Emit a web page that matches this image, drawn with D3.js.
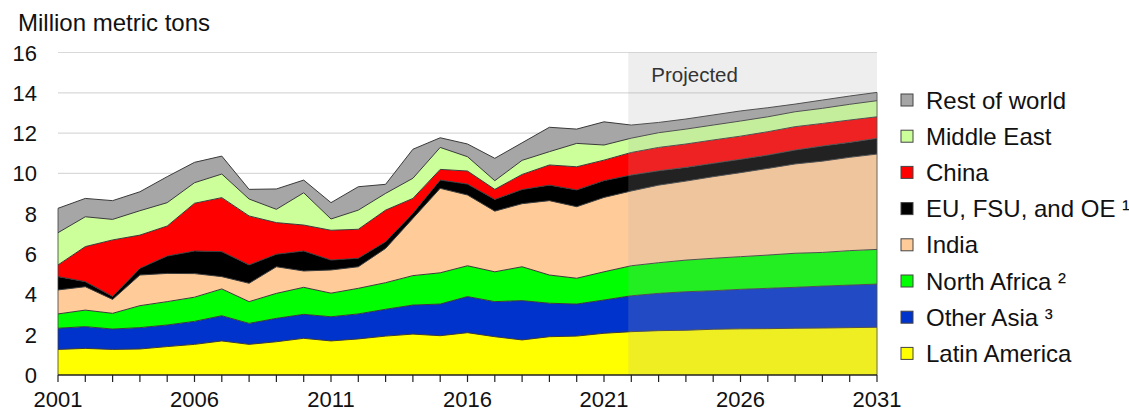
<!DOCTYPE html>
<html>
<head>
<meta charset="utf-8">
<script src="https://cdn.jsdelivr.net/npm/d3@7"></script>
<style>
  html, body { margin: 0; padding: 0; background: #fff; }
  svg { display: block; font-family: Arial, "Liberation Sans", sans-serif; }
</style>
</head>
<body>
<svg id="chart" width="1129" height="412"></svg>
<script>
// Years on the horizontal axis (2022 onward are projections)
const years = [2001,2002,2003,2004,2005,2006,2007,2008,2009,2010,2011,2012,2013,2014,2015,2016,
               2017,2018,2019,2020,2021,2022,2023,2024,2025,2026,2027,2028,2029,2030,2031];
const xTickYears = [2001, 2006, 2011, 2016, 2021, 2026, 2031];
const yTicks = [0, 2, 4, 6, 8, 10, 12, 14, 16];
const projectionStart = 2022;

// Imports by region, million metric tons (stacked bottom to top)
const latinAmerica = [1.27,1.32,1.27,1.29,1.41,1.52,1.69,1.52,1.65,1.82,1.69,1.79,1.93,2.03,1.95,2.10,
                      1.90,1.74,1.90,1.93,2.07,2.15,2.20,2.22,2.27,2.29,2.30,2.32,2.33,2.35,2.37];
const otherAsia    = [1.05,1.08,1.01,1.06,1.07,1.14,1.25,1.04,1.16,1.19,1.20,1.24,1.33,1.44,1.57,1.79,
                      1.74,1.95,1.66,1.59,1.65,1.78,1.85,1.91,1.91,1.96,2.00,2.03,2.08,2.11,2.14];
const northAfrica  = [0.71,0.82,0.78,1.09,1.16,1.20,1.33,1.08,1.24,1.34,1.17,1.27,1.32,1.46,1.55,1.53,
                      1.48,1.68,1.40,1.28,1.40,1.49,1.52,1.57,1.61,1.62,1.65,1.69,1.67,1.71,1.72];
const india        = [1.19,1.16,0.69,1.52,1.40,1.17,0.61,0.91,1.32,0.81,1.15,1.07,1.70,2.84,4.19,3.51,
                      3.01,3.13,3.69,3.55,3.69,3.71,3.85,3.92,4.05,4.17,4.30,4.43,4.53,4.63,4.73];
const euFsuOe      = [0.66,0.25,0.15,0.33,0.86,1.12,1.24,0.91,0.62,0.99,0.49,0.42,0.33,0.25,0.41,0.54,
                      0.58,0.70,0.77,0.83,0.83,0.79,0.71,0.68,0.66,0.66,0.66,0.69,0.75,0.74,0.78];
const china        = [0.58,1.74,2.80,1.65,1.49,2.37,2.68,2.43,1.57,1.29,1.48,1.44,1.57,0.74,0.53,0.65,
                      0.50,0.75,1.00,1.15,1.02,1.12,1.16,1.16,1.16,1.15,1.16,1.16,1.12,1.11,1.07];
const middleEast   = [1.60,1.48,1.02,1.21,1.16,1.02,1.17,0.84,0.66,1.60,0.56,0.95,0.83,1.00,1.09,0.71,
                      0.43,0.70,0.66,1.16,0.75,0.71,0.73,0.74,0.74,0.75,0.74,0.74,0.75,0.78,0.80];
const restOfWorld  = [1.21,0.91,0.93,0.94,1.29,1.01,0.89,0.48,1.01,0.63,0.81,1.16,0.45,1.44,0.48,0.63,
                      1.11,0.87,1.21,0.71,1.15,0.65,0.51,0.50,0.50,0.50,0.45,0.38,0.41,0.41,0.41];

const seriesNames  = ["Latin America", "Other Asia \u00B3", "North Africa \u00B2", "India",
                      "EU, FSU, and OE \u00B9", "China", "Middle East", "Rest of world"];
const seriesValues = [latinAmerica, otherAsia, northAfrica, india, euFsuOe, china, middleEast, restOfWorld];
const seriesColors = ["#ffff00", "#0033cc", "#00ff00", "#ffcc99", "#000000", "#ff0000", "#ccff99", "#a6a6a6"];

// Row table for d3.stack
const keys = seriesNames;
const rows = years.map((yr, i) => {
  const r = { year: yr };
  keys.forEach((k, j) => { r[k] = seriesValues[j][i]; });
  return r;
});

const svg = d3.select("#chart");
const x = d3.scaleLinear().domain([2001, 2031]).range([58, 877]);
const y = d3.scaleLinear().domain([0, 16]).range([375, 52.5]);

// Axis title
svg.append("text").attr("x", 18).attr("y", 31).attr("font-size", 24).attr("fill", "#111")
  .text("Million metric tons");

// Horizontal gridlines
svg.append("g").selectAll("line").data(yTicks.filter(d => d > 0)).join("line")
  .attr("x1", x(2001)).attr("x2", x(2031))
  .attr("y1", d => y(d)).attr("y2", d => y(d))
  .attr("stroke", "#d9d9d9").attr("stroke-width", 1.2);

// Y tick labels
svg.append("g").selectAll("text").data(yTicks).join("text")
  .attr("x", 37).attr("y", d => y(d) + 8)
  .attr("text-anchor", "end").attr("font-size", 22).attr("fill", "#111")
  .text(d => d);

// Stacked areas
const stack = d3.stack().keys(keys);
const layers = stack(rows);
const area = d3.area()
  .x(d => x(d.data.year))
  .y0(d => y(d[0]))
  .y1(d => y(d[1]));
const topLine = d3.line()
  .x(d => x(d.data.year))
  .y(d => y(d[1]));

svg.append("g").selectAll("path").data(layers).join("path")
  .attr("d", area)
  .attr("fill", (d, i) => seriesColors[i]);

svg.append("g").selectAll("path").data(layers).join("path")
  .attr("d", topLine)
  .attr("fill", "none")
  .attr("stroke", "#3a3a3a").attr("stroke-width", 1);

// Edge of the stack at both ends
const last = layers[layers.length - 1];
svg.append("g").selectAll("line").data([0, years.length - 1]).join("line")
  .attr("x1", i => x(years[i])).attr("x2", i => x(years[i]))
  .attr("y1", y(0)).attr("y2", i => y(last[i][1]))
  .attr("stroke", "#3a3a3a").attr("stroke-width", 0.8);

// Projection shading
svg.append("rect")
  .attr("x", x(projectionStart) - 3)
  .attr("y", y(16))
  .attr("width", x(2031) - x(projectionStart) + 3)
  .attr("height", y(0) - y(16))
  .attr("fill", "rgb(170,170,170)").attr("fill-opacity", 0.2);

svg.append("text")
  .attr("x", x(projectionStart) + 20).attr("y", 82)
  .attr("font-size", 20.5).attr("fill", "#333")
  .text("Projected");

// X axis
const xAxis = svg.append("g").attr("transform", `translate(0,${y(0)})`);
xAxis.append("line").attr("x1", x(2001)).attr("x2", x(2031))
  .attr("stroke", "#222").attr("stroke-width", 1.3);
xAxis.selectAll("line.tick").data(years).join("line").attr("class", "tick")
  .attr("x1", d => x(d)).attr("x2", d => x(d))
  .attr("y1", 0).attr("y2", 7)
  .attr("stroke", "#222").attr("stroke-width", 1.2);
xAxis.selectAll("text").data(xTickYears).join("text")
  .attr("x", d => x(d)).attr("y", 32)
  .attr("text-anchor", "middle").attr("font-size", 22).attr("fill", "#111")
  .text(d => d);

// Legend (top to bottom mirrors the stack)
const legendOrder = d3.range(seriesNames.length).reverse();
const legend = svg.append("g");
const lg = legend.selectAll("g").data(legendOrder).join("g")
  .attr("transform", (d, i) => `translate(901, ${100 + i * 36.2})`);
lg.append("rect")
  .attr("x", 0).attr("y", -6).attr("width", 12).attr("height", 12)
  .attr("fill", d => seriesColors[d])
  .attr("stroke", "#444").attr("stroke-width", 1);
lg.append("text")
  .attr("x", 25).attr("y", 8.5)
  .attr("font-size", 24).attr("fill", "#111")
  .text(d => seriesNames[d]);
</script>
</body>
</html>
